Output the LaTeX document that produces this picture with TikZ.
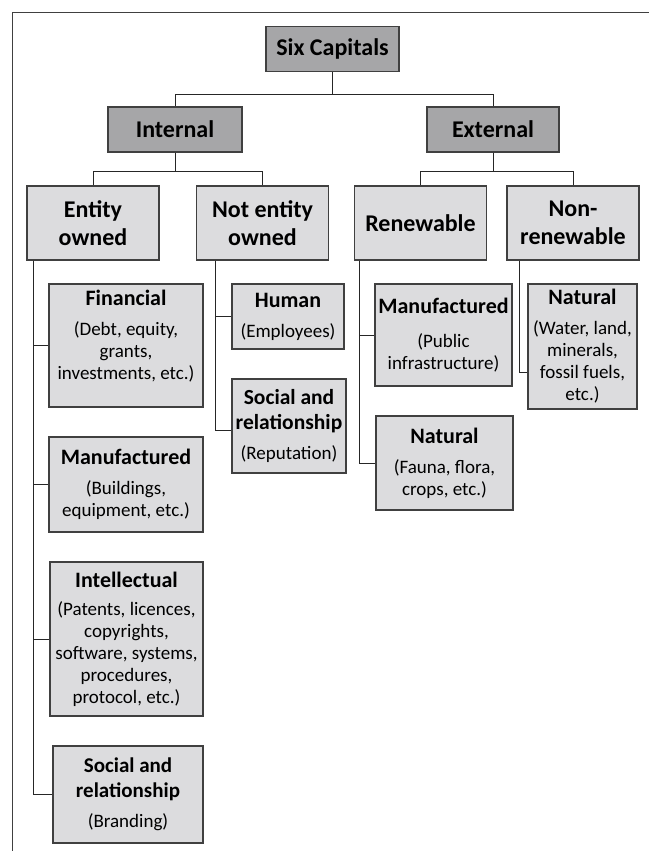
\documentclass[tikz,border=0pt]{standalone}
\usepackage{fontspec}
\setmainfont{Carlito}
\usepackage{tikz}

\definecolor{darkfill}{HTML}{A6A6A8}
\definecolor{lightfill}{HTML}{DCDCDE}
\definecolor{boxline}{HTML}{404040}

\begin{document}
\begin{tikzpicture}[x=1pt, y=-1pt,
	topbox/.style={draw=boxline, line width=1.2pt, fill=darkfill, minimum height=45pt,
		font=\bfseries\fontsize{24}{28}\selectfont, inner sep=0pt},
	typebox/.style={draw=boxline, line width=1.2pt, fill=lightfill, minimum width=132pt,
		minimum height=74pt, align=center, font=\bfseries\fontsize{24}{28}\selectfont, inner sep=0pt},
	capbox/.style={draw=boxline, line width=1.2pt, fill=lightfill, align=center,
		font=\fontsize{19}{22}\selectfont, inner sep=0pt},
	link/.style={draw=black!85, line width=0.9pt}]

	% frame and bounding box
	\useasboundingbox (0,0) rectangle (649,851);
	\draw[boxline, line width=1pt] (12,851) -- (12,13) -- (649,13);

	% top levels
	\node[topbox, minimum width=133pt] (six) at (332.5,49) {Six Capitals};
	\node[topbox, minimum width=134pt] (internal) at (175,129.5) {Internal};
	\node[topbox, minimum width=132pt] (external) at (493,129.5) {External};

	\node[typebox] (entity) at (93,223) {Entity\\owned};
	\node[typebox] (notentity) at (262.5,223) {Not entity\\owned};
	\node[typebox] (renew) at (420.5,223) {Renewable};
	\node[typebox] (nonrenew) at (573,223) {Non-\\renewable};

	% capitals
	\node[capbox, minimum width=154pt, minimum height=123pt] (financial) at (126,345.5)
		{\textbf{\fontsize{22}{25}\selectfont Financial}\\[8pt](Debt, equity,\\grants,\\investments, etc.)\\\mbox{}};
	\node[capbox, minimum width=154pt, minimum height=95pt] (manufint) at (126,484.5)
		{\textbf{\fontsize{22}{25}\selectfont Manufactured}\\[8pt](Buildings,\\equipment, etc.)};
	\node[capbox, minimum width=153pt, minimum height=154pt] (intellect) at (126.5,639)
		{\textbf{\fontsize{22}{25}\selectfont Intellectual}\\[6pt](Patents, licences,\\copyrights,\\software, systems,\\procedures,\\protocol, etc.)};
	\node[capbox, minimum width=150pt, minimum height=97pt] (branding) at (128,794.5)
		{\textbf{\fontsize{21}{25}\selectfont Social and}\\[3pt]\textbf{\fontsize{21}{25}\selectfont relationship}\\[8pt](Branding)};

	\node[capbox, minimum width=112pt, minimum height=65pt] (human) at (288,316.5)
		{\textbf{\fontsize{22}{25}\selectfont Human}\\[8pt](Employees)};
	\node[capbox, minimum width=114pt, minimum height=94pt] (reputation) at (289,426)
		{\textbf{\fontsize{21.5}{25}\selectfont Social and}\\[3pt]\textbf{\fontsize{21.5}{25}\selectfont relationship}\\[8pt](Reputation)};

	\node[capbox, minimum width=137pt, minimum height=102pt] (manufext) at (443.5,335)
		{\textbf{\fontsize{22}{25}\selectfont Manufactured}\\[12pt](Public\\infrastructure)};
	\node[capbox, minimum width=137pt, minimum height=94pt] (fauna) at (444.5,463)
		{\textbf{\fontsize{22}{25}\selectfont Natural}\\[8pt](Fauna, flora,\\crops, etc.)};
	\node[capbox, minimum width=109pt, minimum height=125pt] (water) at (582.5,346.5)
		{\textbf{\fontsize{22}{25}\selectfont Natural}\\[8pt](Water, land,\\minerals,\\fossil fuels,\\etc.)};

	% connectors
	\draw[link] (six.south) -- ++(0,22) -| (internal.north);
	\draw[link] (six.south) -- ++(0,22) -| (external.north);
	\draw[link] (internal.south) -- ++(0,19) -| (entity.north);
	\draw[link] (internal.south) -- ++(0,19) -| (notentity.north);
	\draw[link] (external.south) -- ++(0,19) -| (renew.north);
	\draw[link] (external.south) -- ++(0,19) -| (nonrenew.north);

	\draw[link] ([xshift=7pt]entity.south west) |- (financial.west);
	\draw[link] ([xshift=7pt]entity.south west) |- (manufint.west);
	\draw[link] ([xshift=7pt]entity.south west) |- (intellect.west);
	\draw[link] ([xshift=7pt]entity.south west) |- (branding.west);
	\draw[link] ([xshift=20pt]notentity.south west) |- (human.west);
	\draw[link] ([xshift=20pt]notentity.south west) |- ([yshift=-4pt]reputation.west);
	\draw[link] ([xshift=6pt]renew.south west) |- (manufext.west);
	\draw[link] ([xshift=6pt]renew.south west) |- (fauna.west);
	\draw[link] ([xshift=13pt]nonrenew.south west) |- ([yshift=-26pt]water.west);
\end{tikzpicture}
\end{document}
